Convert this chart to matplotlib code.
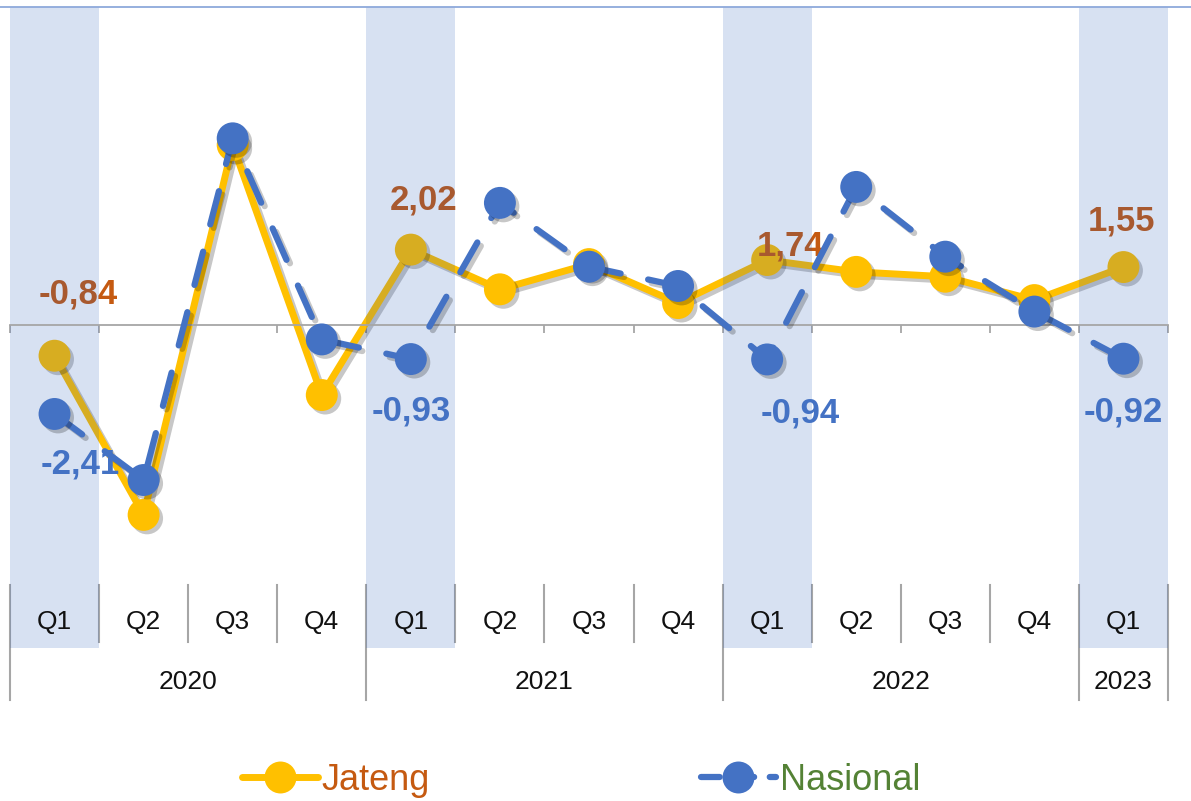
import matplotlib
matplotlib.use('Agg')
import matplotlib.pyplot as plt
import matplotlib.patheffects as pe
from matplotlib.lines import Line2D

# data
kuartal = ['Q1', 'Q2', 'Q3', 'Q4', 'Q1', 'Q2', 'Q3', 'Q4', 'Q1', 'Q2', 'Q3', 'Q4', 'Q1']
tahun = ['2020', '2021', '2022', '2023']
tahun_pos = [1.5, 5.5, 9.5, 12]
jateng = [-0.84, -5.13, 4.84, -1.90, 2.02, 0.95, 1.63, 0.58, 1.74, 1.42, 1.29, 0.66, 1.55]
nasional = [-2.41, -4.19, 5.02, -0.40, -0.93, 3.28, 1.56, 1.04, -0.94, 3.71, 1.83, 0.35, -0.92]
q1_idx = [0, 4, 8, 12]

KUNING = '#FFC000'
BIRU = '#4472C4'
ORANYE = '#C55A11'
HIJAU = '#548235'
ABU = '#A6A6A6'

plt.rcParams['font.family'] = ['Liberation Sans Narrow', 'Liberation Sans', 'DejaVu Sans']

W, H = 1191, 801
fig = plt.figure(figsize=(W / 100, H / 100), dpi=100)
# axes in pixel: x 10..1168, y 7..585 (top-down)
ax = fig.add_axes([10 / W, (H - 585) / H, (1168 - 10) / W, (585 - 7) / H])
ax.set_xlim(-0.5, 12.5)
ax.set_ylim(-7.02, 8.56)

x = list(range(len(kuartal)))
bayang_garis = [pe.SimpleLineShadow(offset=(2.5, -2.5), shadow_color='k', alpha=0.22), pe.Normal()]
bayang_titik = [pe.SimplePatchShadow(offset=(2.5, -2.5), shadow_rgbFace='k', alpha=0.22), pe.Normal()]

# Jateng (di bawah pita biru)
ax.plot(x, jateng, color=KUNING, lw=5, solid_capstyle='round', zorder=2, path_effects=bayang_garis)
ax.plot(x, jateng, ls='none', marker='o', ms=23, color=KUNING, mec='none', zorder=2.1,
        path_effects=bayang_titik)

# pita Q1
for i in q1_idx:
    ax.axvspan(i - 0.5, i + 0.5, ymin=-0.109, ymax=1, color='#2659BA', alpha=0.18, lw=0,
               zorder=2.5, clip_on=False)

# Nasional
ax.plot(x, nasional, color=BIRU, lw=4.5, dashes=(5.5, 4.5), dash_capstyle='round', zorder=3,
        path_effects=bayang_garis)
ax.plot(x, nasional, ls='none', marker='o', ms=23, color=BIRU, mec='none', zorder=3.1,
        path_effects=bayang_titik)

# label data
label_jateng = {0: (24, 62), 4: (13, 50), 8: (23, 14), 12: (-2, 46)}
label_nasional = {0: (26, -50), 4: (0, -52), 8: (33, -54), 12: (0, -53)}
for i, (dx, dy) in label_jateng.items():
    ax.annotate(f'{jateng[i]:.2f}'.replace('.', ','), (i, jateng[i]), xytext=(dx, dy),
                textcoords='offset pixels', ha='center', va='center', fontsize=25,
                fontweight='bold', color=ORANYE, zorder=2.2)
for i, (dx, dy) in label_nasional.items():
    ax.annotate(f'{nasional[i]:.2f}'.replace('.', ','), (i, nasional[i]), xytext=(dx, dy),
                textcoords='offset pixels', ha='center', va='center', fontsize=25,
                fontweight='bold', color=BIRU, zorder=3.2)

# sumbu nol
for s in ['top', 'right', 'left']:
    ax.spines[s].set_visible(False)
ax.spines['bottom'].set_position(('data', 0))
ax.spines['bottom'].set_color(ABU)
ax.spines['bottom'].set_linewidth(1.3)
ax.spines['bottom'].set_zorder(2.6)
ax.set_xticks([i - 0.5 for i in range(len(kuartal) + 1)])
ax.tick_params(axis='x', direction='out', length=6, width=1.3, color=ABU, labelbottom=False)
ax.set_yticks([])

# tabel kategori di bawah
tr = ax.get_xaxis_transform()
def fy(py):
    return (585 - py) / 578

batas_tahun = [-0.5, 3.5, 7.5, 11.5, 12.5]
for b in [i - 0.5 for i in range(len(kuartal) + 1)]:
    y_bawah = 700 if b in batas_tahun else 642
    ax.plot([b, b], [fy(585), fy(y_bawah)], color=ABU, lw=1.5, transform=tr, clip_on=False)
for i, q in enumerate(kuartal):
    ax.text(i, fy(622), q, transform=tr, ha='center', va='center', fontsize=19,
            color='#111111', clip_on=False)
for t, p in zip(tahun, tahun_pos):
    ax.text(p, fy(682), t, transform=tr, ha='center', va='center', fontsize=19,
            color='#111111', clip_on=False)

# garis atas
fig.add_artist(Line2D([0, 1], [(H - 7) / H, (H - 7) / H], transform=fig.transFigure,
                      color='#8EA9DB', lw=1.3))

# legenda
h1 = Line2D([], [], color=KUNING, lw=5, marker='o', ms=23, mec='none', solid_capstyle='round')
h2 = Line2D([], [], color=BIRU, lw=4.5, marker='o', ms=23, mec='none', dashes=(3, 2.5),
            dash_capstyle='round')
fig.legend([h1, h2], ['Jateng', 'Nasional'], loc='center', bbox_to_anchor=(0.488, 21 / H),
           ncol=2, frameon=False, fontsize=26, handlelength=2.1, handletextpad=0.1,
           columnspacing=7.5, labelcolor=[ORANYE, HIJAU])

fig.savefig('out.png', dpi=100)
